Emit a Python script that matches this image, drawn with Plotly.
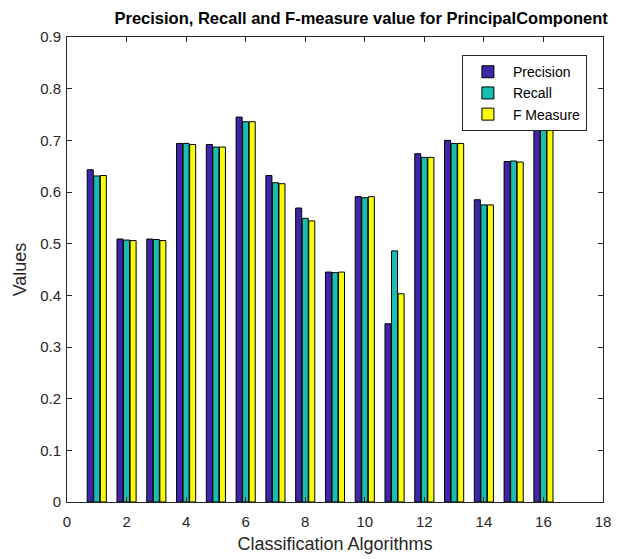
import plotly.graph_objects as go

algorithms = list(range(1, 17))
precision = [0.643, 0.509, 0.509, 0.694, 0.692, 0.745, 0.632, 0.569, 0.445, 0.591, 0.345, 0.674, 0.700, 0.585, 0.659, 0.790]
recall    = [0.631, 0.507, 0.508, 0.694, 0.687, 0.736, 0.618, 0.549, 0.444, 0.589, 0.486, 0.667, 0.694, 0.575, 0.660, 0.780]
fmeasure  = [0.632, 0.506, 0.506, 0.692, 0.687, 0.736, 0.616, 0.544, 0.445, 0.591, 0.403, 0.667, 0.694, 0.575, 0.658, 0.782]
series_names = ["Precision", "Recall", "F Measure"]
colors = ["#3e26a8", "#17bfb1", "#f9fb0e"]
x_ticks = list(range(0, 19, 2))
y_ticks = [round(0.1 * i, 1) for i in range(10)]

fig = go.Figure()
for name, vals, c in zip(series_names, [precision, recall, fmeasure], colors):
    fig.add_trace(go.Bar(x=algorithms, y=vals, name=name, marker=dict(color=c, line=dict(color="#000000", width=1))))

font = "Liberation Sans, Arial, sans-serif"
axis_common = dict(showline=True, mirror="ticks", linecolor="#262626", linewidth=1, ticks="inside",
                   ticklen=5, tickcolor="#262626", showgrid=False, zeroline=False, automargin=False,
                   tickfont=dict(family=font, size=15, color="#262626"))
fig.update_layout(
    width=627, height=559,
    margin=dict(l=67, r=24, t=37, b=57),
    paper_bgcolor="white", plot_bgcolor="white",
    barmode="group", bargap=0.34, bargroupgap=0.08,
    title=dict(text="<b>Precision, Recall and F-measure value for PrincipalComponent</b>",
               x=0.576, xanchor="center", y=0.977, yanchor="top",
               font=dict(family=font, size=16.5, color="#000000")),
    xaxis=dict(range=[0, 18], tickvals=x_ticks, ticklabelstandoff=6,
               title=dict(text="Classification Algorithms", font=dict(family=font, size=18, color="#262626"), standoff=8),
               **axis_common),
    yaxis=dict(range=[0, 0.9], tickvals=y_ticks, ticktext=["0"] + [str(v) for v in y_ticks[1:]],
               ticklabelstandoff=2,
               title=dict(text="Values", font=dict(family=font, size=18, color="#262626"), standoff=8),
               **axis_common),
    legend=dict(x=0.970, y=0.961, xanchor="right", yanchor="top", bgcolor="white",
                bordercolor="#262626", borderwidth=1, font=dict(family=font, size=14, color="#000000"),
                itemwidth=40, tracegroupgap=0),
)
fig.write_html("out.html")
